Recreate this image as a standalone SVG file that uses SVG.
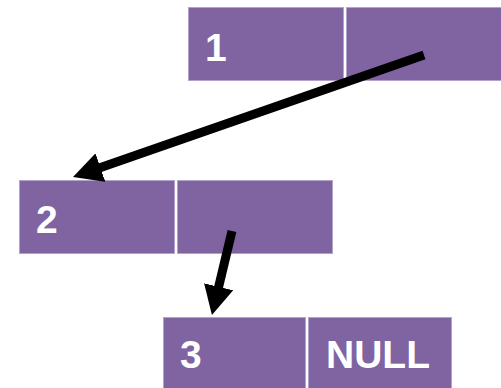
<svg xmlns="http://www.w3.org/2000/svg" width="501" height="388" viewBox="0 0 501 388">
  <style>
    .cell { fill: #8064A2; stroke: #B3A2C9; stroke-width: 1; }
    .lbl { fill: #FFFFFF; font-family: "Liberation Sans", Arial, sans-serif; font-weight: bold; font-size: 39px; }
    .arrow { stroke: #000000; stroke-width: 9; fill: none; marker-end: url(#head); }
  </style>
  <defs>
    <marker id="head" viewBox="0 0 29 30" markerWidth="29" markerHeight="30" markerUnits="userSpaceOnUse" refX="2" refY="15" orient="auto">
      <path d="M0,0 L29,15 L0,30 z" fill="#000000"/>
    </marker>
  </defs>
  <rect width="501" height="388" fill="#FFFFFF"/>
  <g id="node1">
    <rect class="cell" x="188.5" y="7.5" width="155" height="73"/>
    <rect class="cell" x="346.5" y="7.5" width="156" height="73"/>
    <text class="lbl" x="205" y="61">1</text>
  </g>
  <g id="node2">
    <rect class="cell" x="19.5" y="180.5" width="155" height="73"/>
    <rect class="cell" x="177.5" y="180.5" width="155" height="73"/>
    <text class="lbl" x="36" y="233">2</text>
  </g>
  <g id="node3">
    <rect class="cell" x="163.5" y="317.5" width="142" height="75"/>
    <rect class="cell" x="308.5" y="317.5" width="143" height="75"/>
    <text class="lbl" x="180" y="368">3</text>
    <text class="lbl" x="326" y="368">NULL</text>
  </g>
  <g id="connectors">
    <line class="arrow" x1="424" y1="55" x2="98.5" y2="168.2"/>
    <line class="arrow" x1="232" y1="231" x2="218.2" y2="288.7"/>
  </g>
</svg>
